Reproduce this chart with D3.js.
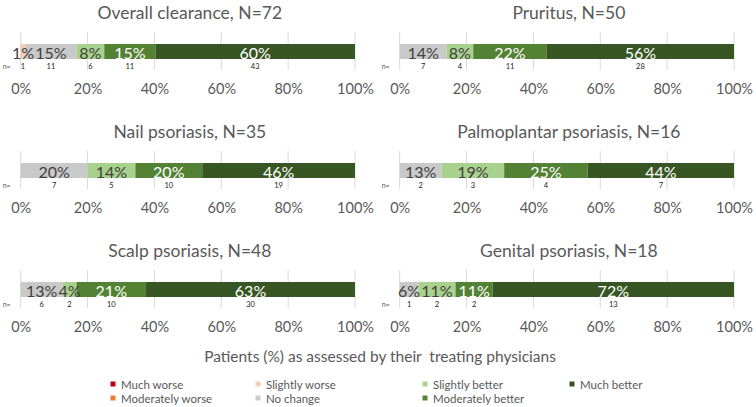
<!DOCTYPE html>
<html>
<head>
<meta charset="utf-8">
<script src="https://cdn.jsdelivr.net/npm/d3@7"></script>
<style>
  html, body { margin: 0; padding: 0; background: #fff; }
  svg { display: block; font-family: Lato, "Open Sans", sans-serif; }
</style>
</head>
<body>
<svg id="chart" width="756" height="407"></svg>
<script>
// ---- Data ----
const categories = ["Much worse", "Moderately worse", "Slightly worse", "No change",
                    "Slightly better", "Moderately better", "Much better"];
const colors = ["#C00000", "#ED7D31", "#F8CBAD", "#C9C9C9", "#A9D18E", "#548235", "#375623"];
const labelColors = ["#fff", "#404040", "#404040", "#404040", "#404040", "#fff", "#fff"];

const panelTitles = ["Overall clearance, N=72", "Pruritus, N=50", "Nail psoriasis, N=35",
                     "Palmoplantar psoriasis, N=16", "Scalp psoriasis, N=48", "Genital psoriasis, N=18"];

// percentages per category (Much worse ... Much better)
const overallPct      = [0, 0, 1.4, 15.3, 8.3, 15.3, 59.7];
const pruritusPct     = [0, 0, 0, 14, 8, 22, 56];
const nailPct         = [0, 0, 0, 20, 14.3, 20, 45.7];
const palmoplantarPct = [0, 0, 0, 12.5, 18.75, 25, 43.75];
const scalpPct        = [0, 0, 0, 12.5, 4.2, 20.8, 62.5];
const genitalPct      = [0, 0, 0, 5.6, 11.1, 11.1, 72.2];

// n counts shown under each segment
const overallN      = [0, 0, 1, 11, 6, 11, 43];
const pruritusN     = [0, 0, 0, 7, 4, 11, 28];
const nailN         = [0, 0, 0, 7, 5, 10, 19];
const palmoplantarN = [0, 0, 0, 2, 3, 4, 7];
const scalpN        = [0, 0, 0, 6, 2, 10, 30];
const genitalN      = [0, 0, 0, 1, 2, 2, 13];

const tickValues = [0, 20, 40, 60, 80, 100];
const axisTitle = "Patients (%) as assessed by their  treating physicians";

const panelPct = [overallPct, pruritusPct, nailPct, palmoplantarPct, scalpPct, genitalPct];
const panelN = [overallN, pruritusN, nailN, palmoplantarN, scalpN, genitalN];

// ---- Layout ----
const svg = d3.select("#chart");
const colX = [[20.7, 355], [399.7, 734]];
const rowBarTop = [44, 163, 282];
const barH = 15;
const textGray = "#595959";

panelTitles.forEach((title, i) => {
  const col = i % 2, row = Math.floor(i / 2);
  const x = d3.scaleLinear().domain([0, 100]).range(colX[col]);
  const y0 = rowBarTop[row];
  const g = svg.append("g");
  const pct = panelPct[i], ns = panelN[i];

  // title
  g.append("text")
    .attr("x", (colX[col][0] + colX[col][1]) / 2 + 2)
    .attr("y", y0 - 25)
    .attr("text-anchor", "middle")
    .attr("fill", textGray)
    .attr("font-size", 17.5)
    .text(title);

  // gridlines
  g.selectAll("line.grid").data(tickValues).join("line")
    .attr("class", "grid")
    .attr("x1", d => x(d)).attr("x2", d => x(d))
    .attr("y1", y0 - 12).attr("y2", y0 + barH + 11)
    .attr("stroke", "#D9D9D9").attr("stroke-width", 1);

  // segments
  let acc = 0;
  const segs = pct.map((v, k) => { const s = { k, start: acc, v, n: ns[k] }; acc += v; return s; })
                  .filter(s => s.v > 0);

  g.selectAll("rect.seg").data(segs).join("rect")
    .attr("class", "seg")
    .attr("x", d => x(d.start))
    .attr("width", d => x(d.start + d.v) - x(d.start))
    .attr("y", y0).attr("height", barH)
    .attr("fill", d => colors[d.k]);

  g.selectAll("text.lbl").data(segs).join("text")
    .attr("class", "lbl")
    .attr("x", d => x(d.start + d.v / 2))
    .attr("y", y0 + barH / 2 + 1)
    .attr("dominant-baseline", "central")
    .attr("text-anchor", "middle")
    .attr("font-size", 16)
    .attr("fill", d => labelColors[d.k])
    .text(d => d3.format(".0f")(d.v) + "%");

  // n row
  g.append("text")
    .attr("x", colX[col][0] - 18)
    .attr("y", y0 + barH + 9.5)
    .attr("font-size", 7)
    .attr("fill", textGray)
    .text("n=");
  g.selectAll("text.n").data(segs).join("text")
    .attr("class", "n")
    .attr("x", d => x(d.start + d.v / 2))
    .attr("y", y0 + barH + 9.5)
    .attr("text-anchor", "middle")
    .attr("font-size", 7.5)
    .attr("fill", "#222")
    .text(d => d.n);

  // axis
  const axis = d3.axisBottom(x).tickValues(tickValues).tickFormat(d => d + "%").tickSize(0).tickPadding(0);
  const ag = g.append("g").attr("transform", `translate(0,${y0 + 40})`).call(axis);
  ag.select(".domain").remove();
  ag.selectAll("text").attr("fill", textGray).attr("font-size", 14.5)
    .attr("font-family", "Lato, 'Open Sans', sans-serif");
});

// axis title
svg.append("text")
  .attr("x", 380).attr("y", 362)
  .attr("text-anchor", "middle")
  .attr("fill", textGray)
  .attr("font-size", 15.5)
  .style("white-space", "pre")
  .attr("xml:space", "preserve")
  .text(axisTitle);

// legend
const legendPos = [[113, 384], [113, 398], [258, 384], [258, 398], [425, 384], [425, 398], [572, 384]];
const lg = svg.append("g");
const items = lg.selectAll("g").data(categories).join("g")
  .attr("transform", (d, i) => `translate(${legendPos[i][0]},${legendPos[i][1]})`);
items.append("rect").attr("x", -2.5).attr("y", -2.5).attr("width", 5).attr("height", 5)
  .attr("fill", (d, i) => colors[i]);
items.append("text").attr("x", 8).attr("y", 0.5).attr("dominant-baseline", "central")
  .attr("font-size", 11.5).attr("fill", textGray).text(d => d);
</script>
</body>
</html>
